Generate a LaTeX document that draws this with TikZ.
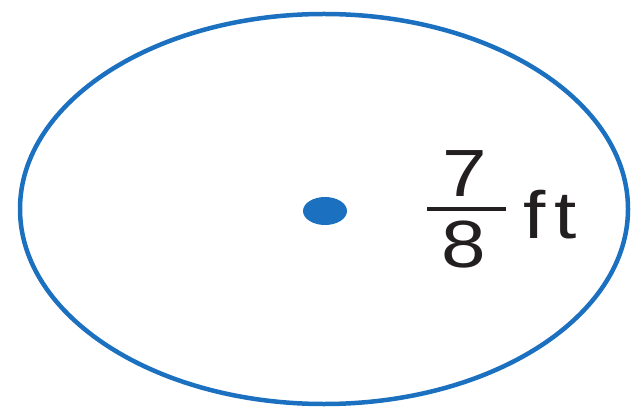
\documentclass[tikz,border=0pt]{standalone}
\usepackage{fontspec}
\setmainfont{Liberation Sans}
\usepackage{tikz}
\usetikzlibrary{positioning}
\definecolor{ringblue}{RGB}{28,112,192}
\definecolor{inkgray}{RGB}{35,31,32}

\begin{document}
\begin{tikzpicture}[
  x=0.02cm, y=0.02cm,
  rim/.style={draw=ringblue, line width=0.09cm},
  label/.style={inner sep=0pt, anchor=base, text=inkgray,
                font=\fontsize{38}{40}\selectfont, xscale=1.2, transform shape},
  fracbar/.style={draw=inkgray, line width=0.08cm},
]
  \useasboundingbox (0,0) rectangle (631,409);
  \draw[rim] (324,200) ellipse [x radius=304, y radius=195];
  \fill[ringblue] (325,198) ellipse [x radius=22, y radius=14];

  % radius label
  \node[label] (num) at (465,212) {7};
  \node[label] (den) at (464,142) {8};
  \node[label] (unit) at (550,171) {f\kern4pt t};
  \coordinate (barl) at (427,200);
  \coordinate (barr) at (506,200);
  \draw[fracbar] (barl) -- (barr);
\end{tikzpicture}
\end{document}
